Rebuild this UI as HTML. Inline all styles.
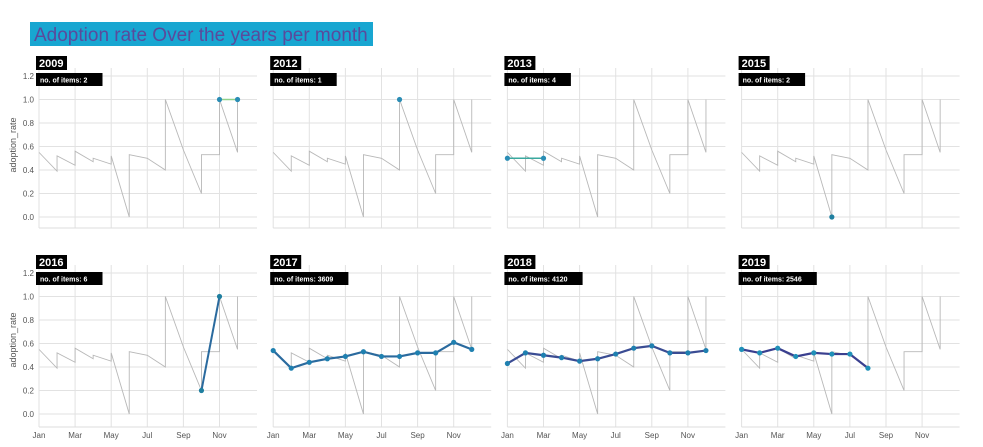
<!DOCTYPE html>
<html><head><meta charset="utf-8">
<style>
html,body{margin:0;padding:0;background:#fff;width:983px;height:447px;overflow:hidden;font-family:"Liberation Sans",sans-serif;}
</style></head>
<body>
<svg id="s" width="983" height="447" xmlns="http://www.w3.org/2000/svg" font-family="Liberation Sans, sans-serif">
<rect x="30" y="22" width="343" height="24" fill="#18a6d1"/>
<text x="34" y="41" font-size="19" fill="#5a4a9c">Adoption rate Over the years per month</text>
</svg>
<script>
var s=document.getElementById('s'),h='';
var grey=[[0,.55],[1,.39],[1,.52],[2,.44],[2,.56],[3,.47],[3,.5],[4,.45],[4,.52],[5,0],[5,.53],[6,.5],[7,.4],[7,1],[8,.57],[9,.2],[9,.53],[10,.53],[10,1],[11,.55],[11,1]];
var panels=[
['2009','2',[[10,1],[11,1]],'#8fd18a','#2a8db5',1.5],
['2012','1',[[7,1]],'#8fd18a','#2a8db5',1.5],
['2013','4',[[0,.5],[2,.5]],'#3aa99f','#2a8db5',1.5],
['2015','2',[[5,0]],'#3aa99f','#1f7fa0',1.5],
['2016','6',[[9,.2],[10,1]],'#2a6a9e','#1f7fa0',2],
['2017','3609',[[0,.54],[1,.39],[2,.44],[3,.47],[4,.49],[5,.53],[6,.49],[7,.49],[8,.52],[9,.52],[10,.61],[11,.55]],'#2a6a9e','#1f80b0',2.2],
['2018','4120',[[0,.43],[1,.52],[2,.5],[3,.48],[4,.45],[5,.47],[6,.51],[7,.56],[8,.58],[9,.52],[10,.52],[11,.54]],'#3a4c93','#1f80b0',2.2],
['2019','2546',[[0,.55],[1,.52],[2,.56],[3,.49],[4,.52],[5,.51],[6,.51],[7,.39]],'#3a3f8f','#1f90b8',2.2]];
var mons=['Jan','Mar','May','Jul','Sep','Nov'];
panels.forEach(function(p,i){
 var c=i%4,r=Math.floor(i/4);
 var x0=39+c*234.2, y0=r?414:217, bot=r?427:228, top=r?265:68;
 var X=function(m){return x0+m*18.05}, Y=function(v){return y0-v*117.5};
 var right=x0+218;
 for(var k=0;k<=6;k++){var y=Y(k*.2);h+='<line x1="'+x0+'" x2="'+right+'" y1="'+y+'" y2="'+y+'" stroke="#e2e2e2" stroke-width="1"/>';
  if(c==0)h+='<text x="'+(x0-5)+'" y="'+(y+3)+'" font-size="8" fill="#555" text-anchor="end">'+(k*.2).toFixed(1)+'</text>';}
 for(var k=0;k<6;k++){var x=X(k*2);h+='<line x1="'+x+'" x2="'+x+'" y1="'+top+'" y2="'+bot+'" stroke="#e2e2e2" stroke-width="1"/>';
  if(r==1)h+='<text x="'+x+'" y="438" font-size="8" fill="#555" text-anchor="middle">'+mons[k]+'</text>';}
 h+='<line x1="'+x0+'" x2="'+right+'" y1="'+bot+'" y2="'+bot+'" stroke="#ddd"/>';
 h+='<polyline fill="none" stroke="#b8b8b8" stroke-width="0.9" points="'+grey.map(function(q){return X(q[0])+','+Y(q[1])}).join(' ')+'"/>';
 var d=p[2];
 if(d.length>1)h+='<polyline fill="none" stroke="'+p[3]+'" stroke-width="'+p[5]+'" points="'+d.map(function(q){return X(q[0])+','+Y(q[1])}).join(' ')+'"/>';
 d.forEach(function(q){h+='<circle cx="'+X(q[0])+'" cy="'+Y(q[1])+'" r="2.6" fill="'+p[4]+'"/>';});
 var ty=r?255:56;
 h+='<rect x="'+(x0-3)+'" y="'+ty+'" width="31" height="14" fill="#000"/><text x="'+(x0)+'" y="'+(ty+11)+'" font-size="11" font-weight="bold" fill="#fff">'+p[0]+'</text>';
 var lab='no. of items: '+p[1], w=lab.length*3.9+8;
 h+='<rect x="'+(x0-3)+'" y="'+(ty+17)+'" width="'+w+'" height="13" fill="#000"/><text x="'+(x0+1)+'" y="'+(ty+26.5)+'" font-size="7" font-weight="bold" fill="#fff">'+lab+'</text>';
 if(c==0)h+='<text transform="translate(16,'+(r?340:145)+') rotate(-90)" font-size="9" fill="#555" text-anchor="middle">adoption_rate</text>';
});
s.insertAdjacentHTML('beforeend',h);
</script>
</body></html>
